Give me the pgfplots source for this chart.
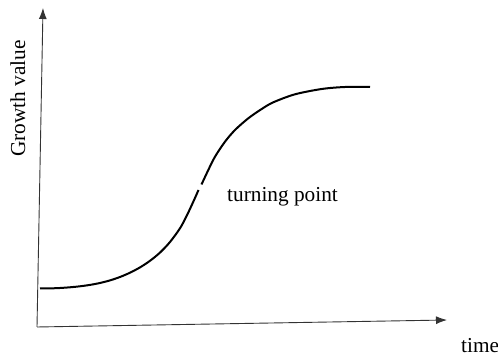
\documentclass[border=0pt]{standalone}
\usepackage{pgfplots}
\pgfplotsset{compat=1.18}
\usepackage{fontspec}
\setmainfont{Liberation Serif}
\usetikzlibrary{arrows.meta}
\begin{document}
\begin{tikzpicture}
\useasboundingbox (0,0) rectangle (498pt,358pt);
\begin{axis}[
  at={(0,0)}, anchor=south west,
  x=1pt, y=1pt,
  xmin=0, xmax=498, ymin=0, ymax=358,
  axis lines=none, ticks=none, clip=false,
]
% axes (slightly tilted as in the scan)
\addplot[draw=black!80, line width=0.9pt, -{Latex[length=11pt,width=8pt]}] coordinates {(37,31) (43,350)};
\addplot[draw=black!80, line width=0.9pt, -{Latex[length=11pt,width=8pt]}] coordinates {(37,31) (447,38)};
% growth curve, lower part
\addplot[black, line width=2pt, smooth] coordinates {
 (40,69.5) (50,69.6) (60,70) (70,70.7) (80,71.7) (90,73.1) (100,75) (110,77.6) (120,81) (130,85.3) (140,90.6) (150,97.2) (160,105.4) (170,116) (180,129.7) (186.7,142.2) (193.3,156.3) (198.5,168)
};
% growth curve, upper part
\addplot[black, line width=2pt, smooth] coordinates {
 (201.5,173.5) (208.3,188) (215,201.3) (225,216.3) (235,228) (248.3,239.7) (261.7,249) (273.3,255.7) (295,263.7) (321.7,269) (345,271) (370,271)
};
\node[rotate=90, anchor=base, font=\fontsize{21.3}{25}\selectfont] at (axis cs:25,259.5) {Growth value};
\node[anchor=base west, inner sep=0pt, font=\fontsize{21.3}{25}\selectfont] at (axis cs:227,156) {turning point};
\node[anchor=base west, inner sep=0pt, font=\fontsize{21.3}{25}\selectfont] at (axis cs:461,5.5) {time};
\end{axis}
\end{tikzpicture}
\end{document}
